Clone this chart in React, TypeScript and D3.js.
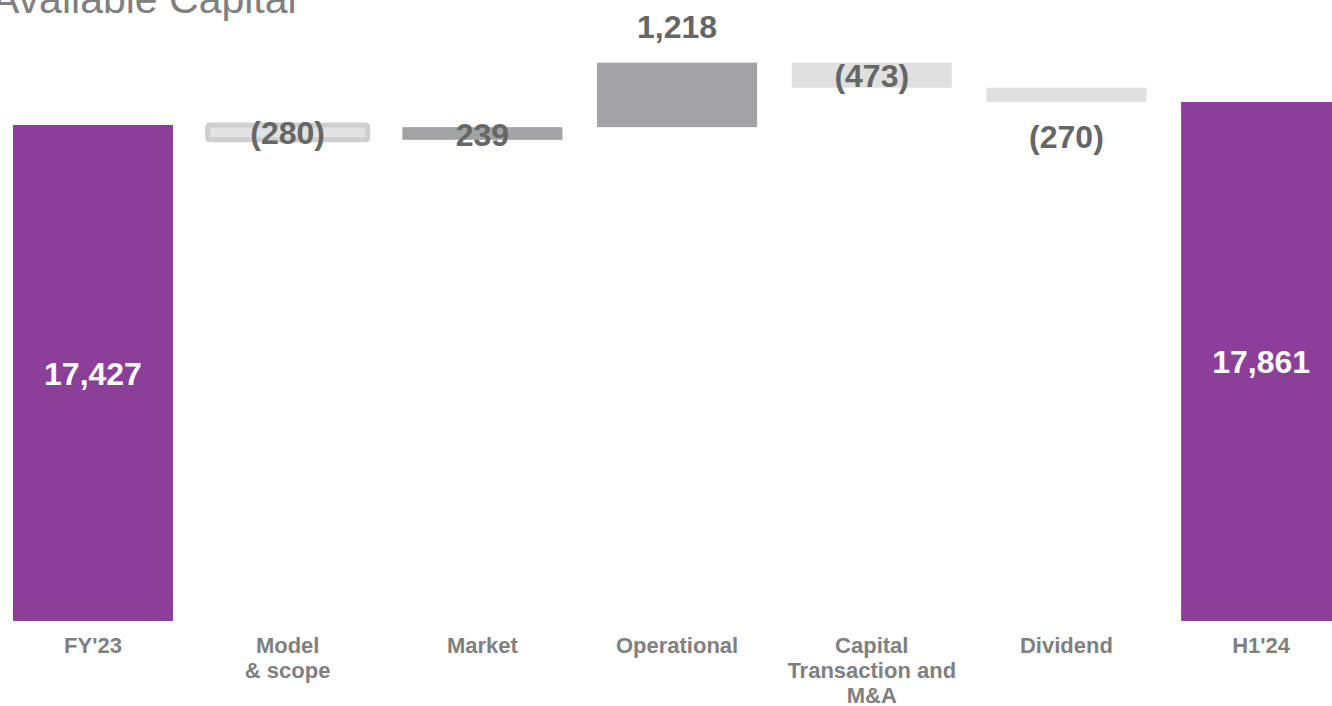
import { useEffect, useRef } from 'react'
import * as d3 from 'd3'

const categories = ['FY\'23', 'Model\n& scope', 'Market', 'Operational', 'Capital\nTransaction and\nM&A', 'Dividend', 'H1\'24']
const startValue = 17427
const deltas = [-280, 239, 1218, -473, -270]
const endValue = 17861
const deltaLabels = ['(280)', '239', '1,218', '(473)', '(270)']
const labelPlacement = ['inside', 'inside', 'above', 'inside', 'below']
const stepStyles = ['outlined', 'dark', 'dark', 'light', 'light']

const W = 1332
const H = 706

export default function App() {
  const ref = useRef<SVGSVGElement | null>(null)

  useEffect(() => {
    const svg = d3.select(ref.current)
    svg.selectAll('*').remove()

    const x = d3.scaleBand<string>().domain(categories).range([-21.7, 1375.8]).paddingInner(0.178).paddingOuter(0.178)
    // truncated value axis, as in the source slide
    const y = d3.scaleLinear().domain([8069, 17427]).range([621, 125])

    const purple = '#8c3f98'
    const labelColor = '#666666'
    const catColor = '#808080'
    const font = 'Liberation Sans, Arial, sans-serif'

    // title, partly cut by the slide edge
    svg.append('text')
      .attr('x', -8).attr('y', 13)
      .style('font-family', font)
      .style('font-size', '41px')
      .attr('fill', '#808080')
      .text('Available Capital')

    const totals = [startValue, endValue]
    const totalCats = [categories[0], categories[categories.length - 1]]
    totals.forEach((v, i) => {
      const cx = x(totalCats[i])!
      svg.append('rect')
        .attr('x', cx).attr('width', x.bandwidth())
        .attr('y', y(v)).attr('height', y.range()[0] - y(v))
        .attr('fill', purple)
      svg.append('text')
        .attr('x', cx + x.bandwidth() / 2)
        .attr('y', (y(v) + y.range()[0]) / 2 + 12)
        .attr('text-anchor', 'middle')
        .style('font-family', font)
        .style('font-weight', 'bold')
        .style('font-size', '32px')
        .attr('fill', '#ffffff')
        .text(d3.format(',')(v))
    })

    let running = startValue
    deltas.forEach((d, i) => {
      const from = running
      const to = running + d
      running = to
      const cat = categories[i + 1]
      const bx = x(cat)!
      const top = y(Math.max(from, to))
      const bottom = y(Math.min(from, to))
      const style = stepStyles[i]
      const r = svg.append('rect')
        .attr('x', bx).attr('width', x.bandwidth())
        .attr('y', top).attr('height', bottom - top)
      if (style === 'outlined') {
        r.attr('fill', '#e2e2e2').attr('stroke', '#cfcfcf').attr('stroke-width', 5).attr('rx', 2)
      } else if (style === 'dark') {
        r.attr('fill', '#a3a3a5')
      } else {
        r.attr('fill', '#e0e0e0')
      }

      const place = labelPlacement[i]
      let ly = (top + bottom) / 2 + 12
      if (place === 'above') ly = top - 25
      if (place === 'below') ly = bottom + 46
      svg.append('text')
        .attr('x', bx + x.bandwidth() / 2)
        .attr('y', ly)
        .attr('text-anchor', 'middle')
        .style('font-family', font)
        .style('font-weight', 'bold')
        .style('font-size', '32px')
        .attr('fill', labelColor)
        .text(deltaLabels[i])
    })

    // category labels
    categories.forEach(c => {
      const cx = x(c)! + x.bandwidth() / 2
      const t = svg.append('text')
        .attr('transform', `translate(${cx},653)`)
        .attr('text-anchor', 'middle')
        .style('font-family', font)
        .style('font-weight', 'bold')
        .style('font-size', '22px')
        .attr('fill', catColor)
      c.split('\n').forEach((line, j) => {
        t.append('tspan').attr('x', 0).attr('y', j * 25).text(line)
      })
    })
  }, [])

  return (
    <svg ref={ref} width={W} height={H}
      style={{ position: 'absolute', left: 0, top: 0, background: '#ffffff', overflow: 'hidden' }} />
  )
}
